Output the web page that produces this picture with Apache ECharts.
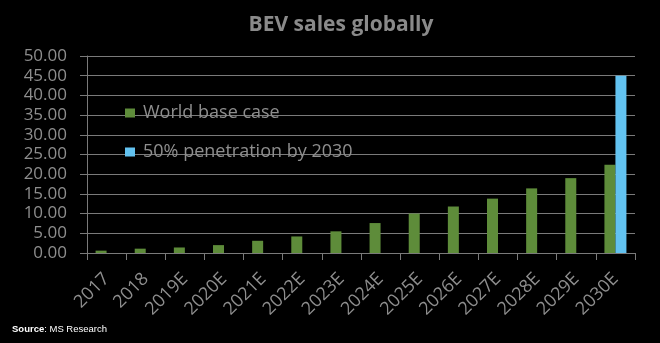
<!DOCTYPE html>
<html>
<head>
<meta charset="utf-8">
<style>
  html, body { margin: 0; padding: 0; background: #000; }
  #chart { width: 660px; height: 343px; }
</style>
<script src="https://cdn.jsdelivr.net/npm/echarts@6/dist/echarts.min.js"></script>
</head>
<body>
<div id="chart"></div>
<script>
// Years on the category axis
const categories = ['2017', '2018', '2019E', '2020E', '2021E', '2022E', '2023E',
  '2024E', '2025E', '2026E', '2027E', '2028E', '2029E', '2030E'];
// BEV sales, base case
const worldBaseCase = [0.6, 1.1, 1.4, 2.0, 3.1, 4.2, 5.5, 7.6, 10.0, 11.8, 13.8, 16.4, 19.0, 22.4];
// BEV sales if 50% penetration is reached by 2030
const penetration50 = [null, null, null, null, null, null, null, null, null, null, null, null, null, 45.0];
const yTicks = { min: 0, max: 50, interval: 5 };

const FONT = '"Open Sans", sans-serif';
const GRID = '#7a7a7a';
const LABEL = '#8e8e8e';

const chart = echarts.init(document.getElementById('chart'));
chart.setOption({
  backgroundColor: '#000',
  animation: false,
  title: {
    text: 'BEV sales globally',
    left: 336, top: 10, textAlign: 'center',
    textStyle: { color: '#8a8a8a', fontFamily: FONT, fontWeight: 'bold', fontSize: 21 }
  },
  legend: [
    {
      data: ['World base case'], left: 120, top: 99, itemWidth: 10, itemHeight: 9,
      icon: 'rect', padding: 5,
      textStyle: { color: LABEL, fontFamily: FONT, fontSize: 18, padding: [0, 0, 0, 3] }
    },
    {
      data: ['50% penetration by 2030'], left: 120, top: 138, itemWidth: 10, itemHeight: 9,
      icon: 'rect', padding: 5,
      textStyle: { color: LABEL, fontFamily: FONT, fontSize: 18, padding: [0, 0, 0, 3] }
    }
  ],
  grid: { left: 87, right: 25, top: 56, bottom: 90, containLabel: false },
  xAxis: {
    type: 'category',
    data: categories,
    boundaryGap: true,
    axisLine: { lineStyle: { color: GRID, width: 1 } },
    axisTick: { show: true, length: 7, lineStyle: { color: GRID } },
    axisLabel: { rotate: 45, margin: 23, color: LABEL, fontFamily: FONT, fontSize: 18 }
  },
  yAxis: {
    type: 'value',
    min: yTicks.min, max: yTicks.max, interval: yTicks.interval,
    axisLine: { show: true, lineStyle: { color: GRID, width: 1 } },
    axisTick: { show: true, length: 7, lineStyle: { color: GRID } },
    splitLine: { lineStyle: { color: GRID, width: 1 } },
    axisLabel: {
      margin: 20, color: LABEL, fontFamily: FONT, fontSize: 17,
      formatter: v => v.toFixed(2)
    }
  },
  series: [
    {
      name: 'World base case', type: 'bar', data: worldBaseCase,
      barWidth: 11, barGap: '0%',
      itemStyle: { color: '#5e8c3a' }
    },
    {
      name: '50% penetration by 2030', type: 'bar', data: penetration50,
      barWidth: 11, barGap: '0%',
      itemStyle: { color: '#62c2f0' }
    }
  ],
  graphic: [
    {
      type: 'text', left: 12, top: 324,
      style: {
        rich: {
          b: { fontWeight: 'bold', fill: '#fff', fontFamily: 'Liberation Sans, Arial', fontSize: 9.5 },
          n: { fill: '#fff', fontFamily: 'Liberation Sans, Arial', fontSize: 9.5 }
        },
        text: '{b|Source}{n|: MS Research}'
      }
    }
  ]
});
</script>
</body>
</html>
